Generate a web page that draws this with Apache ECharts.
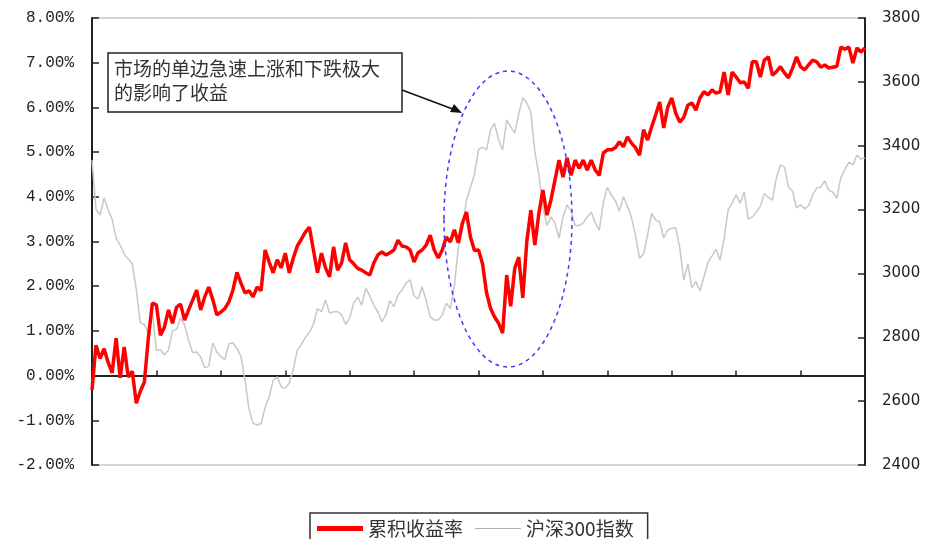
<!DOCTYPE html>
<html>
<head>
<meta charset="utf-8">
<title>累积收益率与沪深300指数</title>
<script src="https://cdn.jsdelivr.net/npm/echarts@6/dist/echarts.min.js"></script>
<style>
html, body { margin: 0; padding: 0; background: #fff; }
#main { width: 928px; height: 539px; }
</style>
</head>
<body>
<div id="main"></div>
<script>
// 累积收益率 (%)
var returnRate = [
	-0.32, 0.68, 0.38, 0.60, 0.30, 0.06, 0.84, -0.05, 0.64, -0.03,
	0.10, -0.62, -0.35, -0.15, 0.85, 1.62, 1.58, 0.90, 1.09, 1.47,
	1.17, 1.53, 1.60, 1.24, 1.47, 1.69, 1.91, 1.47, 1.76, 1.98,
	1.70, 1.36, 1.42, 1.50, 1.65, 1.91, 2.31, 2.07, 1.85, 1.90,
	1.76, 1.98, 1.90, 2.81, 2.54, 2.30, 2.59, 2.41, 2.74, 2.30,
	2.63, 2.90, 3.05, 3.21, 3.32, 2.81, 2.30, 2.74, 2.41, 2.21,
	2.88, 2.36, 2.52, 2.97, 2.59, 2.50, 2.40, 2.36, 2.30, 2.25,
	2.52, 2.70, 2.77, 2.70, 2.75, 2.81, 3.03, 2.90, 2.88, 2.81,
	2.54, 2.75, 2.81, 2.92, 3.14, 2.81, 2.63, 2.81, 3.10, 2.99,
	3.26, 2.97, 3.41, 3.66, 3.10, 2.80, 2.81, 2.50, 1.85, 1.50,
	1.31, 1.17, 0.95, 2.25, 1.55, 2.40, 2.65, 1.74, 3.00, 3.70,
	2.92, 3.63, 4.15, 3.59, 3.93, 4.38, 4.82, 4.44, 4.87, 4.48,
	4.82, 4.64, 4.82, 4.60, 4.82, 4.60, 4.48, 4.98, 5.05, 5.05,
	5.10, 5.23, 5.12, 5.34, 5.20, 5.10, 4.93, 5.50, 5.27, 5.56,
	5.83, 6.12, 5.54, 6.00, 6.21, 5.87, 5.67, 5.78, 6.05, 6.10,
	5.94, 6.21, 6.35, 6.28, 6.39, 6.32, 6.35, 6.79, 6.28, 6.79,
	6.68, 6.55, 6.57, 6.43, 7.02, 7.02, 6.68, 7.06, 7.13, 6.72,
	6.80, 6.91, 6.77, 6.66, 6.88, 7.13, 6.91, 6.84, 6.95, 7.06,
	7.02, 6.90, 6.95, 6.88, 6.90, 6.92, 7.35, 7.30, 7.35, 6.99,
	7.33, 7.24, 7.33
];

// 沪深300指数
var hs300 = [
	3355, 3200, 3183, 3236, 3200, 3170, 3110, 3089, 3060, 3045,
	3030, 2950, 2845, 2840, 2813, 2879, 2760, 2760, 2745, 2760,
	2820, 2825, 2860, 2838, 2790, 2752, 2754, 2738, 2704, 2710,
	2782, 2754, 2740, 2730, 2780, 2782, 2765, 2740, 2666, 2575,
	2531, 2525, 2530, 2580, 2613, 2666, 2676, 2645, 2640, 2657,
	2700, 2760, 2778, 2800, 2815, 2840, 2890, 2880, 2917, 2876,
	2880, 2880, 2870, 2840, 2860, 2907, 2926, 2901, 2954, 2930,
	2900, 2880, 2848, 2870, 2915, 2895, 2932, 2948, 2970, 2980,
	2930, 2920, 2958, 2915, 2864, 2854, 2854, 2870, 2907, 2890,
	2960, 3083, 3136, 3230, 3270, 3310, 3387, 3396, 3387, 3450,
	3470, 3418, 3387, 3481, 3459, 3440, 3500, 3550, 3534, 3506,
	3380, 3310, 3208, 3150, 3177, 3158, 3111, 3177, 3215, 3195,
	3150, 3150, 3158, 3177, 3192, 3158, 3135, 3221, 3270, 3245,
	3228, 3195, 3240, 3210, 3175, 3120, 3048, 3060, 3120, 3189,
	3167, 3161, 3111, 3136, 3142, 3142, 3080, 2979, 3030, 2955,
	2975, 2945, 2989, 3035, 3055, 3076, 3042, 3108, 3200, 3221,
	3246, 3220, 3255, 3170, 3177, 3192, 3210, 3250, 3238, 3230,
	3300, 3340, 3333, 3270, 3258, 3205, 3215, 3203, 3212, 3246,
	3268, 3270, 3290, 3261, 3255, 3235, 3300, 3325, 3349, 3340,
	3371, 3358, 3362
];

var seriesNames = ['累积收益率', '沪深300指数'];
var noteLines = ['市场的单边急速上涨和下跌极大', '的影响了收益'];

// 交易日序号
var days = [];
for (var i = 0; i < returnRate.length; i++) {
	days.push(String(i + 1));
}

var myChart = echarts.init(document.getElementById('main'));

var option = {
	animation: false,
	backgroundColor: '#fff',
	grid: {
		left: 92,
		right: 63,
		top: 18,
		bottom: 74,
		show: true,
		borderColor: '#aaa',
		borderWidth: 1
	},
	legend: {
		// 图例线条用细长路径表示，不显示圆点
		data: [
			{ name: seriesNames[0], icon: 'path://M0,0 H46 V5 H0 Z' },
			{ name: seriesNames[1], icon: 'path://M0,0 H46 V1 H0 Z' }
		],
		left: 310,
		top: 513,
		padding: [6, 14, 20, 7],
		itemGap: 12,
		itemWidth: 46,
		itemHeight: 12,
		borderColor: '#333',
		borderWidth: 1.5,
		textStyle: {
			fontFamily: '"Noto Sans CJK SC"',
			fontSize: 19,
			color: '#333'
		}
	},
	xAxis: {
		type: 'category',
		data: days,
		boundaryGap: false,
		axisLine: {
			onZero: true,
			onZeroAxisIndex: 0,
			lineStyle: { color: '#222', width: 2 }
		},
		axisTick: {
			inside: true,
			length: 5,
			interval: 15,
			lineStyle: { color: '#222', width: 1.5 }
		},
		axisLabel: { show: false },
		splitLine: { show: false }
	},
	yAxis: [{
		type: 'value',
		min: -2,
		max: 8,
		interval: 1,
		axisLine: { show: true, lineStyle: { color: '#222', width: 2 } },
		axisTick: { show: true, inside: true, length: 7, lineStyle: { color: '#222', width: 1.5 } },
		axisLabel: {
			margin: 18,
			fontFamily: '"Liberation Mono"',
			fontSize: 16,
			color: '#222',
			formatter: function(v) { return v.toFixed(2) + '%'; }
		},
		splitLine: { show: false }
	}, {
		type: 'value',
		min: 2400,
		max: 3800,
		interval: 200,
		position: 'right',
		axisLine: { show: true, lineStyle: { color: '#222', width: 2 } },
		axisTick: { show: true, inside: true, length: 7, lineStyle: { color: '#222', width: 1.5 } },
		axisLabel: {
			margin: 17,
			fontFamily: '"DejaVu Sans"',
			fontSize: 15,
			color: '#222',
			formatter: function(v) { return String(v); }
		},
		splitLine: { show: false }
	}],
	series: [{
		name: seriesNames[0],
		type: 'line',
		yAxisIndex: 0,
		data: returnRate,
		symbol: 'none',
		z: 3,
		lineStyle: { color: '#ff0000', width: 3.5 },
		itemStyle: { color: '#ff0000' }
	}, {
		name: seriesNames[1],
		type: 'line',
		yAxisIndex: 1,
		data: hs300,
		symbol: 'none',
		z: 2,
		lineStyle: { color: '#c8c8c8', width: 1.5 },
		itemStyle: { color: '#b0b0b0' }
	}],
	graphic: [{
		// 说明文字框
		type: 'rect',
		shape: { x: 108, y: 53, width: 294, height: 59 },
		style: { fill: '#fff', stroke: '#222', lineWidth: 1.5 },
		z: 10
	}, {
		type: 'text',
		left: 114,
		top: 57,
		style: {
			text: noteLines.join('\n'),
			font: '19px "Noto Sans CJK SC"',
			lineHeight: 24,
			fill: '#333'
		},
		z: 11
	}, {
		// 箭头
		type: 'line',
		shape: { x1: 402, y1: 90, x2: 458, y2: 111 },
		style: { stroke: '#111', lineWidth: 1.5 },
		z: 10
	}, {
		type: 'polygon',
		shape: { points: [[462, 113], [450, 112], [454, 104]] },
		style: { fill: '#111' },
		z: 10
	}, {
		// 虚线椭圆
		type: 'ellipse',
		shape: { cx: 508, cy: 219, rx: 64, ry: 148 },
		style: { fill: 'none', stroke: '#3a3aff', lineWidth: 1.5, lineDash: [4, 4] },
		z: 10
	}]
};

myChart.setOption(option);
</script>
</body>
</html>
